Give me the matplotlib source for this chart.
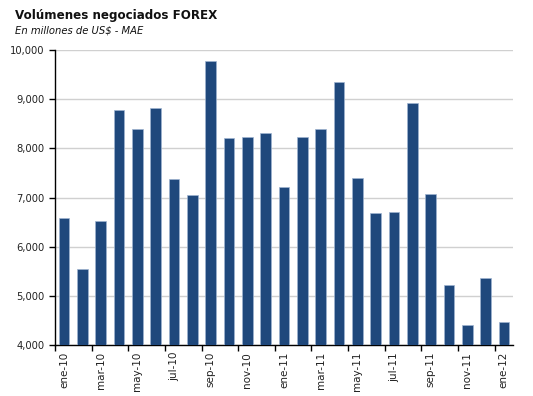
import matplotlib
matplotlib.use("Agg")
import matplotlib.pyplot as plt
import numpy as np

months = ["ene-10", "feb-10", "mar-10", "abr-10", "may-10", "jun-10", "jul-10", "ago-10",
          "sep-10", "oct-10", "nov-10", "dic-10", "ene-11", "feb-11", "mar-11", "abr-11",
          "may-11", "jun-11", "jul-11", "ago-11", "sep-11", "oct-11", "nov-11", "dic-11",
          "ene-12"]
volumes = [6580, 5550, 6530, 8780, 8390, 8820, 7380, 7050, 9770, 8220, 8240, 8320,
           7210, 8240, 8390, 9340, 7400, 6690, 6710, 8930, 7070, 5220, 4400, 5370, 4470]
yticks = [4000, 5000, 6000, 7000, 8000, 9000, 10000]

title = "Volúmenes negociados FOREX"
subtitle = "En millones de US$ - MAE"

fig = plt.figure(figsize=(5.33, 3.96), dpi=100)
ax = fig.add_axes([0.1032, 0.1288, 0.8593, 0.7449])

x = np.arange(len(months))
ax.bar(x, volumes, width=0.58, color="#1F487C", edgecolor="#9FB4D0", linewidth=0.5, zorder=3)

ax.set_xlim(-0.5, len(months) - 0.5)
ax.set_ylim(yticks[0], yticks[-1])
ax.set_yticks(yticks)
ax.set_yticklabels([f"{v:,}" for v in yticks])
ax.yaxis.grid(True, color="#D0D0D0", linewidth=1.0, zorder=0)

ax.set_xticks(np.arange(-0.5, len(months) - 1, 2))
ax.set_xticklabels([])
ax.set_xticks(x[::2], [months[i] for i in x[::2]], minor=True)
ax.tick_params(axis="x", which="major", direction="out", length=4, width=1, color="#000000")
ax.tick_params(axis="x", which="minor", length=0, labelsize=7.5, rotation=90, pad=5,
               labelcolor="#222222")
ax.tick_params(axis="y", direction="out", length=4, width=1, labelsize=7.2,
               labelcolor="#222222")

for s in ["top", "right"]:
    ax.spines[s].set_visible(False)
for s in ["left", "bottom"]:
    ax.spines[s].set_color("#000000")
    ax.spines[s].set_linewidth(1.0)

fig.text(0.028, 0.962, title, fontsize=8.6, fontweight="bold", color="#111111",
         va="center", ha="left")
fig.text(0.028, 0.922, subtitle, fontsize=7.2, style="italic", color="#111111",
         va="center", ha="left")

fig.savefig("out.png", dpi=100)
